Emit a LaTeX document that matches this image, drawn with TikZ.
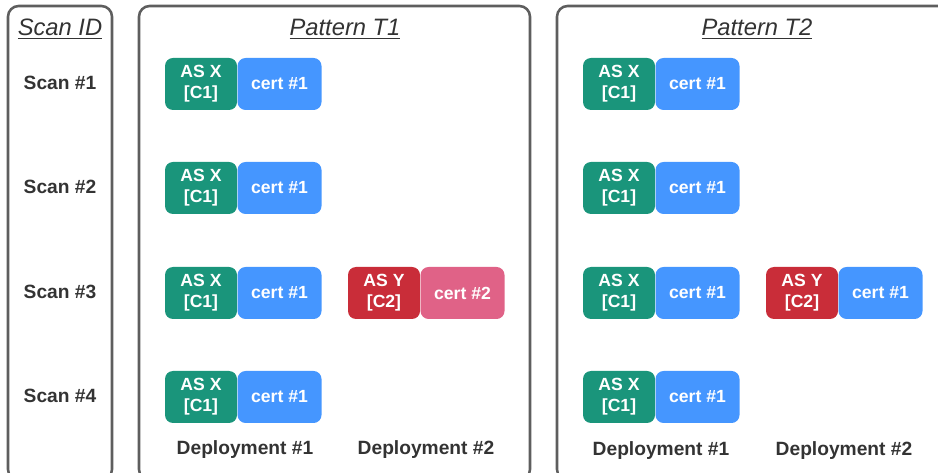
\documentclass[tikz,border=0pt]{standalone}
\usepackage{fontspec}
\setmainfont{Liberation Sans}
\usetikzlibrary{positioning}

\definecolor{asgreen}{HTML}{1A957B}
\definecolor{asred}{HTML}{C92D39}
\definecolor{certblue}{HTML}{4596FF}
\definecolor{certpink}{HTML}{E06287}
\definecolor{panelgray}{HTML}{5E5E5E}
\definecolor{textgray}{HTML}{333333}

\begin{document}
\begin{tikzpicture}
  [
  x=0.75pt, y=-0.75pt, text=textgray,
  panel/.style={draw=panelgray, line width=1.9pt, rounded corners=8pt},
  title/.style={font=\itshape\fontsize{17.8}{19}\selectfont},
  rowlabel/.style={font=\bfseries\fontsize{14.4}{16}\selectfont},
  asbox/.style={rectangle, minimum height=39pt, minimum width=54pt, inner sep=0pt, rounded corners=6pt, text=white, align=center, font=\bfseries\fontsize{13.2}{15.6}\selectfont},
  certbox/.style={rectangle, minimum height=39pt, minimum width=63pt, inner sep=0pt, rounded corners=6pt, text=white, font=\bfseries\fontsize{13.2}{15.6}\selectfont}
  ]

\useasboundingbox (0,0) rectangle (938,473);

% panels
\draw[panel] (8,6) rectangle (112,480);
\draw[panel] (139,6) rectangle (530,480);
\draw[panel] (557,6) rectangle (960,480);

\node[title] (tscan) at (60,29) {\underline{Scan ID}};
\node[title] (tone) at (345,29) {\underline{Pattern T1}};
\node[title] (ttwo) at (757,29) {\underline{Pattern T2}};

% scans, deployment #1 in both patterns
\foreach \s/\y in {1/84,2/188,3/293,4/397} {
  \node[rowlabel] (scan\s) at (60,\y-1) {Scan \#\s};
  \node[asbox, fill=asgreen] (asa\s) at (201,\y) {AS X\\{}[C1]};
  \node[certbox, fill=certblue, right=0pt of asa\s] (certa\s) {cert \#1};
  \node[asbox, fill=asgreen] (asb\s) at (619,\y) {AS X\\{}[C1]};
  \node[certbox, fill=certblue, right=0pt of asb\s] (certb\s) {cert \#1};
}

% deployment #2 in scan #3
\node[asbox, fill=asred] (asya) at (384,293) {AS Y\\{}[C2]};
\node[certbox, fill=certpink, right=0pt of asya] (certya) {cert \#2};
\node[asbox, fill=asred] (asyb) at (802,293) {AS Y\\{}[C2]};
\node[certbox, fill=certblue, right=0pt of asyb] (certyb) {cert \#1};

\node[rowlabel] (depa1) at (245,450) {Deployment \#1};
\node[rowlabel] (depa2) at (426,450) {Deployment \#2};
\node[rowlabel] (depb1) at (661,451) {Deployment \#1};
\node[rowlabel] (depb2) at (844,451) {Deployment \#2};

\end{tikzpicture}
\end{document}
